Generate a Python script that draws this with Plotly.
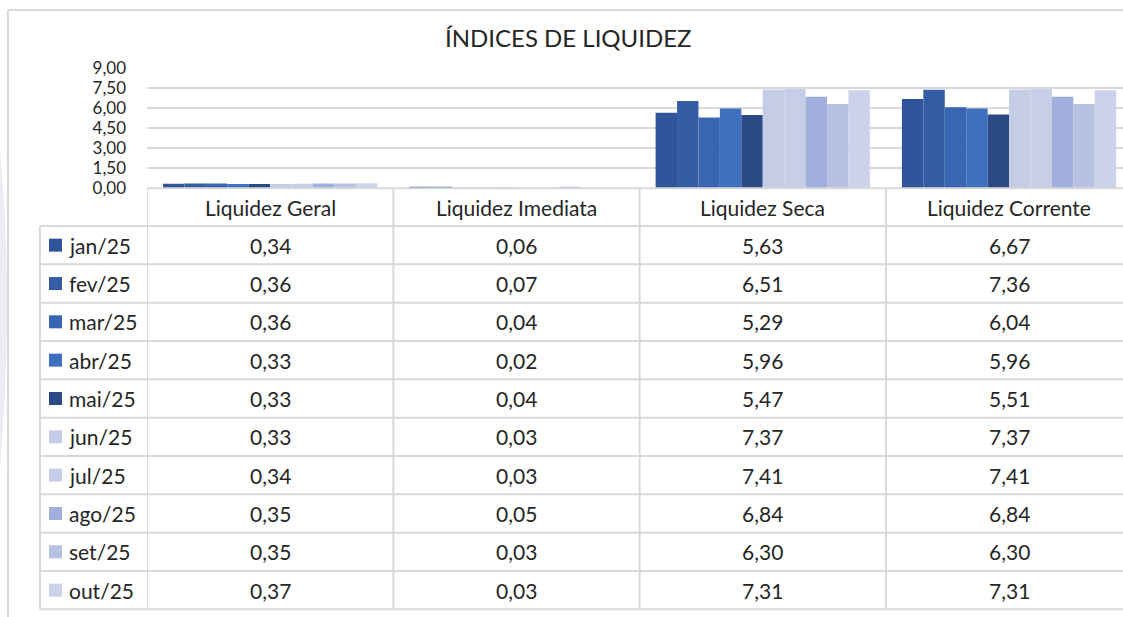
import plotly.graph_objects as go

W, H = 1123, 617

categories = ["Liquidez Geral", "Liquidez Imediata", "Liquidez Seca", "Liquidez Corrente"]
months = ["jan/25", "fev/25", "mar/25", "abr/25", "mai/25", "jun/25", "jul/25", "ago/25", "set/25", "out/25"]
colors = ["#30549A", "#345DA6", "#3966B1", "#3F6FBF", "#2B4A85",
          "#C4CCE6", "#C7CFE8", "#A0AFDB", "#B7C2E3", "#CBD2EA"]

liquidez_geral = [0.34, 0.36, 0.36, 0.33, 0.33, 0.33, 0.34, 0.35, 0.35, 0.37]
liquidez_imediata = [0.06, 0.07, 0.04, 0.02, 0.04, 0.03, 0.03, 0.05, 0.03, 0.03]
liquidez_seca = [5.63, 6.51, 5.29, 5.96, 5.47, 7.37, 7.41, 6.84, 6.30, 7.31]
liquidez_corrente = [6.67, 7.36, 6.04, 5.96, 5.51, 7.37, 7.41, 6.84, 6.30, 7.31]

y_ticks = [0, 1.5, 3, 4.5, 6, 7.5, 9]

series = [liquidez_geral, liquidez_imediata, liquidez_seca, liquidez_corrente]

FONT = "Lato"
TXT = "#262626"
GRID = "#D9D9D9"
FS = 21


def px(x):
    return x / W


def py(y):
    return 1 - y / H


fig = go.Figure()
for i, m in enumerate(months):
    fig.add_trace(go.Bar(
        x=list(range(len(categories))),
        y=[s[i] for s in series],
        name=m,
        marker=dict(color=colors[i], line=dict(width=0)),
    ))

# layout geometry (pixels)
PLOT_L = 147
CAT_W = 246.3
PLOT_TOP, PLOT_BOT = 67.7, 188.3
HEAD_TOP, ROW0 = 188.3, 226.0
ROW_H = 38.33
TABLE_L = 40

shapes = []
annotations = []

# outer frame
shapes.append(dict(type="line", xref="paper", yref="paper", x0=px(8), x1=1, y0=py(10), y1=py(10),
                   line=dict(color=GRID, width=2)))
shapes.append(dict(type="line", xref="paper", yref="paper", x0=px(8), x1=px(8), y0=py(10), y1=0,
                   line=dict(color=GRID, width=2)))
# faint decorative arc at left edge
shapes.append(dict(type="path", xref="paper", yref="paper",
                   path=f"M 0 {py(150)} Q {px(14)} {py(300)} 0 {py(470)} Z",
                   fillcolor="#ECECF4", line=dict(width=0), layer="below"))

# header top line
shapes.append(dict(type="line", xref="paper", yref="paper", x0=px(PLOT_L), x1=1,
                   y0=py(HEAD_TOP), y1=py(HEAD_TOP), line=dict(color=GRID, width=2)))
# row lines
n = len(months)
for r in range(n + 1):
    yy = ROW0 + r * ROW_H
    shapes.append(dict(type="line", xref="paper", yref="paper", x0=px(TABLE_L), x1=1,
                       y0=py(yy), y1=py(yy), line=dict(color=GRID, width=2)))
# vertical lines
bottom = ROW0 + n * ROW_H
shapes.append(dict(type="line", xref="paper", yref="paper", x0=px(TABLE_L), x1=px(TABLE_L),
                   y0=py(ROW0), y1=py(bottom), line=dict(color=GRID, width=2)))
for k in range(len(categories)):
    shapes.append(dict(type="line", xref="x", yref="paper", x0=k - 0.5, x1=k - 0.5,
                       y0=py(HEAD_TOP), y1=py(bottom), line=dict(color=GRID, width=2)))

# header labels
for k, c in enumerate(categories):
    annotations.append(dict(text=c, xref="x", yref="paper", x=k, y=py((HEAD_TOP + ROW0) / 2),
                            showarrow=False, xanchor="center", yanchor="middle",
                            font=dict(family=FONT, size=FS, color=TXT)))
# rows
for r, m in enumerate(months):
    yc = ROW0 + (r + 0.5) * ROW_H
    shapes.append(dict(type="rect", xref="paper", yref="paper", x0=px(49), x1=px(62),
                       y0=py(yc - 6.5), y1=py(yc + 6.5), fillcolor=colors[r], line=dict(width=0)))
    annotations.append(dict(text=m, xref="paper", yref="paper", x=px(67), y=py(yc),
                            showarrow=False, xanchor="left", yanchor="middle",
                            font=dict(family=FONT, size=FS, color=TXT)))
    for k, s in enumerate(series):
        annotations.append(dict(text=f"{s[r]:.2f}".replace(".", ","), xref="x", yref="paper",
                                x=k, y=py(yc), showarrow=False, xanchor="center", yanchor="middle",
                                font=dict(family=FONT, size=FS, color=TXT)))

# title
annotations.append(dict(text="ÍNDICES DE LIQUIDEZ", xref="paper", yref="paper", x=px(568), y=py(37),
                        showarrow=False, xanchor="center", yanchor="middle",
                        font=dict(family=FONT, size=24, color=TXT)))

fig.update_layout(
    width=W, height=H, autosize=False,
    margin=dict(l=0, r=0, t=0, b=0, pad=0, autoexpand=False),
    paper_bgcolor="white", plot_bgcolor="white",
    barmode="group", bargap=0.13, bargroupgap=0,
    showlegend=False,
    separators=",.",
    xaxis=dict(domain=[px(PLOT_L), 1], range=[-0.5, -0.5 + (W - PLOT_L) / CAT_W], automargin=False,
               showticklabels=False, showgrid=False, zeroline=False, showline=False, fixedrange=True),
    yaxis=dict(domain=[py(PLOT_BOT), py(PLOT_TOP)], range=[0, 9], tickvals=y_ticks, automargin=False,
               tickformat=".2f", showgrid=True, gridcolor=GRID, gridwidth=2, zeroline=False,
               showline=False, ticks="", ticklabelstandoff=20,
               tickfont=dict(family=FONT, size=17, color=TXT), fixedrange=True),
    shapes=shapes,
    annotations=annotations,
)

fig.write_html("out.html", config={"displayModeBar": False},
               post_script="document.body.style.margin='0';document.body.style.overflow='hidden';")
